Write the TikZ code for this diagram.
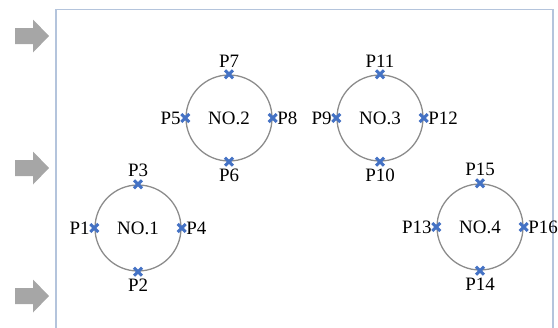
\documentclass[tikz,border=0pt]{standalone}
\usepackage{fontspec}
\setmainfont{Liberation Serif}
\usetikzlibrary{shapes.misc,positioning}
\definecolor{framecol}{HTML}{B4C4DC}
\definecolor{ringcol}{HTML}{8C8C8C}
\definecolor{markcol}{HTML}{4472C4}
\definecolor{arrowcol}{HTML}{A6A6A6}
\begin{document}
\begin{tikzpicture}[x=1bp,y=-1bp,
  ring/.style={circle, draw=ringcol, line width=1.3bp, minimum size=86bp,
    inner sep=0pt, font=\fontsize{19}{21}\selectfont},
  pmark/.style={cross out, draw=markcol, line width=3bp, minimum size=5bp,
    inner sep=0pt},
  lab/.style={inner sep=0pt, font=\fontsize{19}{21}\selectfont},
  inflow/.style={fill=arrowcol}]
\useasboundingbox (0,0) rectangle (558,327);

% room outline (open at the lower edge of the page)
\draw[framecol, line width=1.5bp] (56,328) -- (56,9.5) -- (553,9.5) -- (553,328);

% inflow arrows on the left side
\foreach \y in {36,168,296}
  \fill[inflow] (15,\y-8) -- (33,\y-8) -- (33,\y-16.5) -- (49,\y)
    -- (33,\y+16.5) -- (33,\y+8) -- (15,\y+8) -- cycle;

% rings
\node[ring] (r1) at (138,228) {NO.1};
\node[ring] (r2) at (229,118) {NO.2};
\node[ring] (r3) at (380,118) {NO.3};
\node[ring] (r4) at (480,227) {NO.4};

% measuring points: left, bottom, top, right of each ring
\node[pmark] (m1)  at (r1.west)  {};
\node[pmark] (m2)  at (r1.south) {};
\node[pmark] (m3)  at (r1.north) {};
\node[pmark] (m4)  at (r1.east)  {};
\node[pmark] (m5)  at (r2.west)  {};
\node[pmark] (m6)  at (r2.south) {};
\node[pmark] (m7)  at (r2.north) {};
\node[pmark] (m8)  at (r2.east)  {};
\node[pmark] (m9)  at (r3.west)  {};
\node[pmark] (m10) at (r3.south) {};
\node[pmark] (m11) at (r3.north) {};
\node[pmark] (m12) at (r3.east)  {};
\node[pmark] (m13) at (r4.west)  {};
\node[pmark] (m14) at (r4.south) {};
\node[pmark] (m15) at (r4.north) {};
\node[pmark] (m16) at (r4.east)  {};

% point labels
\node[lab, left=0.5bp of m1]   (t1)  {P1};
\node[lab, below=3bp of m2]    (t2)  {P2};
\node[lab, above=3bp of m3]    (t3)  {P3};
\node[lab, right=0.5bp of m4]  (t4)  {P4};
\node[lab, left=0.5bp of m5]   (t5)  {P5};
\node[lab, below=3bp of m6]    (t6)  {P6};
\node[lab, above=3bp of m7]    (t7)  {P7};
\node[lab, right=0.5bp of m8]  (t8)  {P8};
\node[lab, left=0.5bp of m9]   (t9)  {P9};
\node[lab, below=3bp of m10]   (t10) {P10};
\node[lab, above=3bp of m11]   (t11) {P11};
\node[lab, right=0.5bp of m12] (t12) {P12};
\node[lab, left=0.5bp of m13]  (t13) {P13};
\node[lab, below=3bp of m14]   (t14) {P14};
\node[lab, above=3bp of m15]   (t15) {P15};
\node[lab, right=0.5bp of m16] (t16) {P16};
\end{tikzpicture}
\end{document}
